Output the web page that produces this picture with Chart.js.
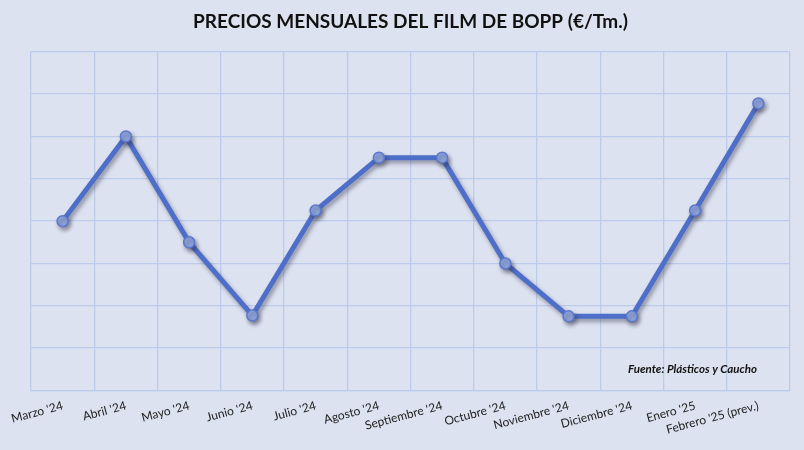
<!DOCTYPE html>
<html>
<head>
<meta charset="utf-8">
<script src="https://cdn.jsdelivr.net/npm/chart.js@4.4.1/dist/chart.umd.min.js"></script>
<style>
  html, body { margin: 0; padding: 0; background: #dde2f1; }
  #wrap { width: 804px; height: 450px; }
</style>
</head>
<body>
<div id="wrap"><canvas id="bopp-chart" width="804" height="450"></canvas></div>
<script>
// months on the x axis
const months = [
  "Marzo '24", "Abril '24", "Mayo '24", "Junio '24", "Julio '24", "Agosto '24",
  "Septiembre '24", "Octubre '24", "Noviembre '24", "Diciembre '24", "Enero '25", "Febrero '25 (prev.)"
];
// price level in grid units (no y labels shown in the original)
const prices = [4.0, 6.0, 3.5, 1.77, 4.25, 5.5, 5.5, 3.0, 1.75, 1.75, 4.25, 6.78];
const yMin = 0;
const yMax = 8;

const gridColor = '#bccbec';

// soft drop shadow under the line, like the excel chart
const shadowPlugin = {
  id: 'lineShadow',
  beforeDatasetsDraw(chart) {
    const c = chart.ctx;
    c.save();
    c.shadowColor = 'rgba(40,40,60,0.45)';
    c.shadowBlur = 4;
    c.shadowOffsetX = 2;
    c.shadowOffsetY = 3;
  },
  afterDatasetsDraw(chart) {
    chart.ctx.restore();
  }
};

// source note in the lower right corner of the plot
const sourcePlugin = {
  id: 'sourceNote',
  afterDraw(chart) {
    const c = chart.ctx;
    const area = chart.chartArea;
    c.save();
    c.font = 'italic bold 11.5px Lato, "Open Sans", sans-serif';
    c.fillStyle = '#111';
    c.textAlign = 'right';
    c.textBaseline = 'middle';
    c.fillText('Fuente: Plásticos y Caucho', area.right - 33, area.bottom - 21);
    c.restore();
  }
};

const ctx = document.getElementById('bopp-chart');
new Chart(ctx, {
  type: 'line',
  data: {
    labels: months,
    datasets: [{
      data: prices,
      borderColor: '#4e6fc9',
      borderWidth: 5,
      pointRadius: 5.5,
      pointBackgroundColor: '#8ea5de',
      pointBorderColor: '#5a78cc',
      pointBorderWidth: 1.5,
      tension: 0
    }]
  },
  options: {
    responsive: false,
    animation: false,
    layout: { padding: { left: 31, right: 14, top: 4, bottom: 5 } },
    plugins: {
      legend: { display: false },
      tooltip: { enabled: false },
      title: {
        display: true,
        text: 'PRECIOS MENSUALES DEL FILM DE BOPP (€/Tm.)',
        color: '#111',
        font: { family: 'Lato, "Open Sans", sans-serif', size: 19, weight: 'bold' },
        padding: { top: 6, bottom: 19 }
      }
    },
    scales: {
      x: {
        offset: true,
        grid: { color: gridColor, lineWidth: 1.3, drawTicks: false, offset: true },
        border: { color: gridColor, width: 1.3 },
        ticks: {
          color: '#222',
          font: { family: 'Lato, "Open Sans", sans-serif', size: 12 },
          minRotation: 15,
          maxRotation: 15,
          autoSkip: false,
          padding: 8
        }
      },
      y: {
        min: yMin,
        max: yMax,
        ticks: { display: false, stepSize: 1 },
        grid: { color: gridColor, lineWidth: 1.3, drawTicks: false },
        border: { display: false }
      }
    }
  },
  plugins: [shadowPlugin, sourcePlugin]
});
</script>
</body>
</html>
